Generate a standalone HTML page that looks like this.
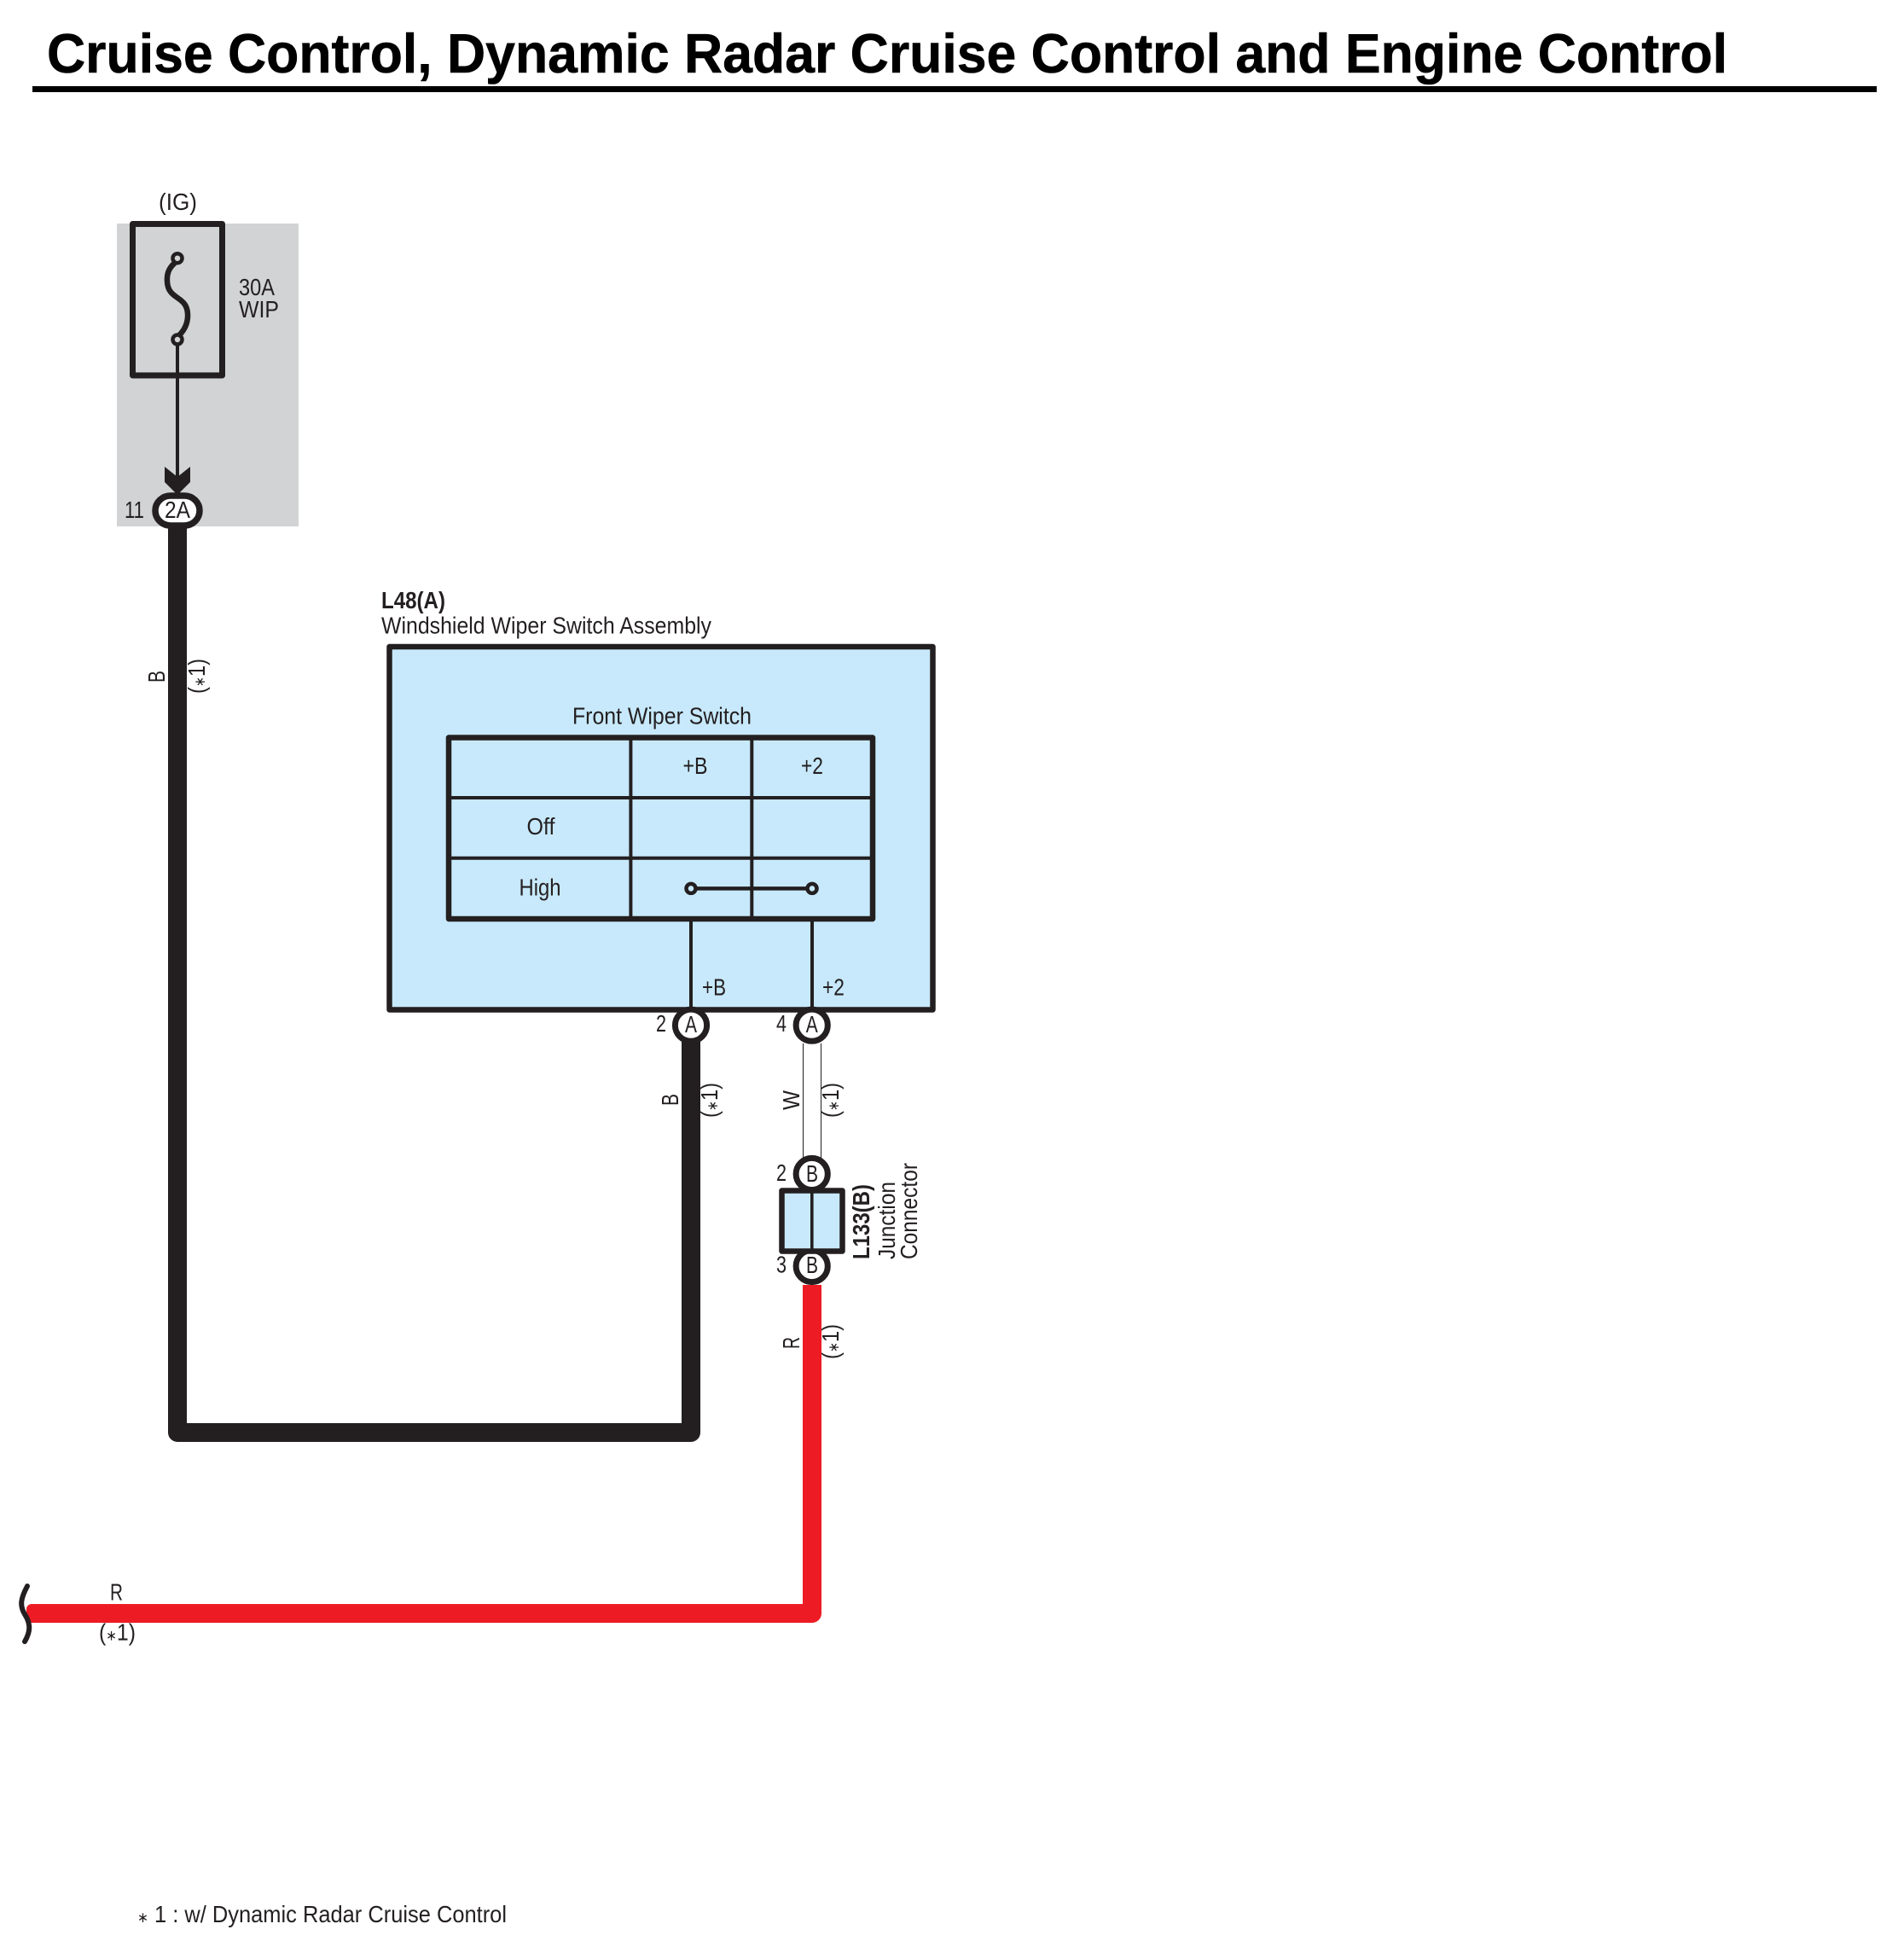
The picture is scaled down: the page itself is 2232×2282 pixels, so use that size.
<!DOCTYPE html>
<html>
<head>
<meta charset="utf-8">
<style>
html,body{margin:0;padding:0;background:#fff}
svg{display:block}
text{font-family:"Liberation Sans",Arial,sans-serif;fill:#231f20;font-size:28px}
.s{font-size:17px}
</style>
</head>
<body>
<svg xmlns="http://www.w3.org/2000/svg" width="2232" height="2282" viewBox="0 0 2232 2282">
<rect width="2232" height="2282" fill="#fff"/>

<!-- title -->
<text x="55" y="85" font-weight="bold" style="font-size:65px;fill:#000;stroke:#000;stroke-width:.6" textLength="1970" lengthAdjust="spacingAndGlyphs">Cruise Control, Dynamic Radar Cruise Control and Engine Control</text>
<rect x="38" y="101" width="2162" height="7" fill="#000"/>

<!-- fuse block -->
<rect x="137" y="262" width="213" height="355" fill="#d1d3d4"/>
<rect x="155.5" y="262.5" width="105" height="177.5" fill="none" stroke="#231f20" stroke-width="7" stroke-linejoin="round"/>
<path d="M205,308 C197,315 195.5,322 196,330 C197,352 219,346 220,368 C220.5,378 217,386 210,393" fill="none" stroke="#231f20" stroke-width="6.5"/>
<circle cx="208" cy="302.7" r="5.5" fill="#d1d3d4" stroke="#231f20" stroke-width="4.5"/>
<circle cx="208" cy="398" r="5.5" fill="#d1d3d4" stroke="#231f20" stroke-width="4.5"/>
<rect x="206" y="403" width="4" height="160" fill="#231f20"/>
<polygon points="193,547 208,559 223,547 223,565 208,580 193,565" fill="#231f20"/>
<text x="186" y="246" textLength="45" lengthAdjust="spacingAndGlyphs">(IG)</text>
<text x="280" y="346" textLength="42" lengthAdjust="spacingAndGlyphs">30A</text>
<text x="280" y="372" textLength="47" lengthAdjust="spacingAndGlyphs">WIP</text>

<!-- black wire -->
<path d="M208,612 V1679 H810 V1215" fill="none" stroke="#231f20" stroke-width="22" stroke-linejoin="round"/>
<rect x="182" y="581" width="52" height="35" rx="18" ry="17.5" fill="#fff" stroke="#231f20" stroke-width="7.5"/>
<text x="146" y="607" textLength="23" lengthAdjust="spacingAndGlyphs">11</text>
<text x="193" y="607" textLength="30" lengthAdjust="spacingAndGlyphs">2A</text>
<text transform="translate(193,800) rotate(-90)" textLength="14" lengthAdjust="spacingAndGlyphs">B</text>
<text transform="translate(240,813) rotate(-90)" textLength="41" lengthAdjust="spacingAndGlyphs">(<tspan class="s">∗</tspan>1)</text>

<!-- switch assembly -->
<text x="447" y="713" font-weight="bold" textLength="75" lengthAdjust="spacingAndGlyphs">L48(A)</text>
<text x="447" y="742.5" textLength="387" lengthAdjust="spacingAndGlyphs">Windshield Wiper Switch Assembly</text>
<rect x="456.5" y="758" width="637" height="425.5" fill="#c7e9fb" stroke="#231f20" stroke-width="6.5" stroke-linejoin="round"/>
<text x="671" y="848.5" textLength="210" lengthAdjust="spacingAndGlyphs">Front Wiper Switch</text>
<g fill="none" stroke="#231f20" stroke-width="4">
<path d="M739.4,864 V1077 M881.3,864 V1077 M526,935 H1023 M526,1005.7 H1023"/>
<path d="M810,1077 V1186 M952,1077 V1186"/>
</g>
<rect x="526" y="864.5" width="497" height="212.5" fill="none" stroke="#231f20" stroke-width="6.5" stroke-linejoin="round"/>
<path d="M810,1041.4 H952" stroke="#231f20" stroke-width="4.5" fill="none"/>
<circle cx="810" cy="1041.4" r="5.5" fill="#c7e9fb" stroke="#231f20" stroke-width="4.5"/>
<circle cx="952" cy="1041.4" r="5.5" fill="#c7e9fb" stroke="#231f20" stroke-width="4.5"/>
<text x="800.5" y="907" textLength="29" lengthAdjust="spacingAndGlyphs">+B</text>
<text x="939" y="907" textLength="26" lengthAdjust="spacingAndGlyphs">+2</text>
<text x="617.5" y="978" textLength="33" lengthAdjust="spacingAndGlyphs">Off</text>
<text x="608.5" y="1049.6" textLength="49" lengthAdjust="spacingAndGlyphs">High</text>
<text x="823" y="1166.4" textLength="28" lengthAdjust="spacingAndGlyphs">+B</text>
<text x="964" y="1166.4" textLength="26" lengthAdjust="spacingAndGlyphs">+2</text>

<!-- connector A pins -->
<circle cx="810" cy="1201.7" r="18.6" fill="#fff" stroke="#231f20" stroke-width="7"/>
<circle cx="951.7" cy="1201.7" r="18.6" fill="#fff" stroke="#231f20" stroke-width="7"/>
<text x="803" y="1210" textLength="14" lengthAdjust="spacingAndGlyphs">A</text>
<text x="944.7" y="1210" textLength="14" lengthAdjust="spacingAndGlyphs">A</text>
<text x="769" y="1209" textLength="12" lengthAdjust="spacingAndGlyphs">2</text>
<text x="910" y="1209" textLength="12" lengthAdjust="spacingAndGlyphs">4</text>

<text transform="translate(795,1296) rotate(-90)" textLength="14" lengthAdjust="spacingAndGlyphs">B</text>
<text transform="translate(841,1310) rotate(-90)" textLength="41" lengthAdjust="spacingAndGlyphs">(<tspan class="s">∗</tspan>1)</text>

<!-- white wire -->
<path d="M941.5,1223 V1358 M962.5,1223 V1358" stroke="#231f20" stroke-width="1" fill="none"/>
<text transform="translate(937,1301) rotate(-90)" textLength="23" lengthAdjust="spacingAndGlyphs">W</text>
<text transform="translate(983,1310) rotate(-90)" textLength="41" lengthAdjust="spacingAndGlyphs">(<tspan class="s">∗</tspan>1)</text>

<!-- junction connector -->
<circle cx="951.7" cy="1376" r="18.6" fill="#fff" stroke="#231f20" stroke-width="7"/>
<circle cx="951.7" cy="1484" r="18.6" fill="#fff" stroke="#231f20" stroke-width="7"/>
<rect x="916.5" y="1395.5" width="71" height="71" fill="#c7e9fb" stroke="#231f20" stroke-width="6.5" stroke-linejoin="round"/>
<rect x="950" y="1395" width="3.6" height="72" fill="#231f20"/>
<text x="945" y="1385" textLength="14" lengthAdjust="spacingAndGlyphs">B</text>
<text x="945" y="1492" textLength="14" lengthAdjust="spacingAndGlyphs">B</text>
<text x="910" y="1384" textLength="12" lengthAdjust="spacingAndGlyphs">2</text>
<text x="910" y="1491.7" textLength="12" lengthAdjust="spacingAndGlyphs">3</text>
<text transform="translate(1019,1476) rotate(-90)" font-weight="bold" textLength="88" lengthAdjust="spacingAndGlyphs">L133(B)</text>
<text transform="translate(1049,1476) rotate(-90)" textLength="91" lengthAdjust="spacingAndGlyphs">Junction</text>
<text transform="translate(1075,1476) rotate(-90)" textLength="113" lengthAdjust="spacingAndGlyphs">Connector</text>

<!-- red wire -->
<path d="M952,1506 V1891 H38" fill="none" stroke="#ed1c24" stroke-width="22" stroke-linejoin="round" stroke-linecap="butt"/>
<rect x="31" y="1880" width="14" height="22" rx="6" fill="#ed1c24"/>
<text transform="translate(937,1581) rotate(-90)" textLength="14" lengthAdjust="spacingAndGlyphs">R</text>
<text transform="translate(983,1593) rotate(-90)" textLength="41" lengthAdjust="spacingAndGlyphs">(<tspan class="s">∗</tspan>1)</text>
<path d="M32,1859 C24,1874 23,1882 29,1892 C36,1903 36,1912 29,1924" fill="none" stroke="#231f20" stroke-width="6" stroke-linecap="round"/>
<text x="129" y="1875.5" textLength="15" lengthAdjust="spacingAndGlyphs">R</text>
<text x="116" y="1922.5" textLength="43" lengthAdjust="spacingAndGlyphs">(<tspan class="s">∗</tspan>1)</text>

<!-- footnote -->
<text x="161" y="2253" textLength="433" lengthAdjust="spacingAndGlyphs"><tspan class="s">∗</tspan> 1 : w/ Dynamic Radar Cruise Control</text>
</svg>
</body>
</html>
